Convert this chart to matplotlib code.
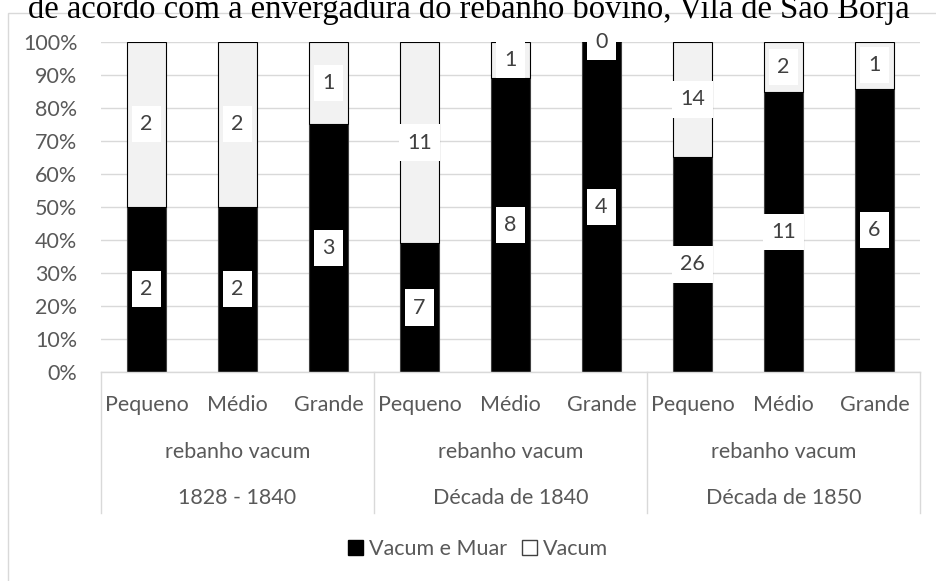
import matplotlib
matplotlib.use("Agg")
import matplotlib.pyplot as plt
import matplotlib.transforms as mtransforms
from matplotlib.patches import Patch, Rectangle
from matplotlib.lines import Line2D
import numpy as np

sizes = ["Pequeno", "Médio", "Grande"] * 3
group_label = "rebanho vacum"
periods = ["1828 - 1840", "Década de 1840", "Década de 1850"]
vacum_muar = [2, 2, 3, 7, 8, 4, 26, 11, 6]
vacum = [2, 2, 1, 11, 1, 0, 14, 2, 1]
series_names = ["Vacum e Muar", "Vacum"]
title = "de acordo com a envergadura do rebanho bovino, Vila de São Borja"

plt.rcParams['font.family'] = ['Lato', 'DejaVu Sans']
txt_color = '#595959'
grid_color = '#d9d9d9'
fs = 15.5

fig = plt.figure(figsize=(9.37, 5.81), dpi=100)
W, H = 937, 581
ax = fig.add_axes([101 / W, 1 - 371.7 / H, (920 - 101) / W, 330 / H])

vm = np.array(vacum_muar, dtype=float)
v = np.array(vacum, dtype=float)
tot = vm + v
p_vm = vm / tot * 100
p_v = v / tot * 100
x = np.arange(len(sizes))
bw = 0.42

ax.bar(x, p_vm, bw, color='black', edgecolor='#404040', linewidth=0.8, zorder=2)
ax.bar(x, p_v, bw, bottom=p_vm, color='#f2f2f2', edgecolor='black', linewidth=0.8, zorder=2)

bbox = dict(boxstyle='square,pad=0.38', facecolor='white', edgecolor='none')
for xi, a, b, pa, pb in zip(x, vm, v, p_vm, p_v):
    ax.text(xi, pa / 2, f"{int(a)}", ha='center', va='center', fontsize=fs,
            color='#404040', bbox=bbox, zorder=4)
    ax.text(xi, pa + pb / 2, f"{int(b)}", ha='center', va='center', fontsize=fs,
            color='#404040', bbox=bbox, zorder=4)

ax.set_xlim(-0.5, len(sizes) - 0.5)
ax.set_ylim(0, 100)
ax.set_yticks(np.arange(0, 101, 10))
ax.set_yticklabels([f"{t}%" for t in range(0, 101, 10)], fontsize=fs, color=txt_color)
ax.tick_params(axis='y', length=0, pad=17)
ax.set_xticks([])
for s in ['top', 'right', 'left']:
    ax.spines[s].set_visible(False)
ax.spines['bottom'].set_color(grid_color)
ax.spines['bottom'].set_linewidth(1)
ax.yaxis.grid(True, color=grid_color, linewidth=1, zorder=0)
ax.set_axisbelow(True)

trans = mtransforms.blended_transform_factory(ax.transData, ax.transAxes)
y_bot = -(513 - 371.7) / 330
for sep in [-0.5, 2.5, 5.5, 8.5]:
    ax.add_line(Line2D([sep, sep], [0, y_bot], transform=trans, color=grid_color,
                       linewidth=1, clip_on=False))
y1 = -(405 - 371.7) / 330
y2 = -(452 - 371.7) / 330
y3 = -(498 - 371.7) / 330
for xi, s in zip(x, sizes):
    ax.text(xi, y1, s, transform=trans, ha='center', va='center', fontsize=fs, color=txt_color)
for g, per in enumerate(periods):
    cx = g * 3 + 1
    ax.text(cx, y2, group_label, transform=trans, ha='center', va='center', fontsize=fs, color=txt_color)
    ax.text(cx, y3, per, transform=trans, ha='center', va='center', fontsize=fs, color=txt_color)

handles = [Patch(facecolor='black', edgecolor='black'),
           Patch(facecolor='white', edgecolor='#404040')]
fig.legend(handles, series_names, loc='center', bbox_to_anchor=(478 / W, 1 - 549 / H),
           ncol=2, frameon=False, fontsize=fs, handlelength=0.7, handleheight=0.7,
           handletextpad=0.25, columnspacing=0.7, labelcolor=txt_color)

# chart border
fig.add_artist(Rectangle((8 / W, -0.01), 1.0, 1 - 13 / H + 0.01, transform=fig.transFigure,
                         fill=False, edgecolor=grid_color, linewidth=1))

fig.text(0.5, 1 - 18 / H, title, ha='center', va='baseline', fontsize=23.5,
         family=['Liberation Serif', 'DejaVu Serif'], color='black')

fig.savefig("out.png", dpi=100, facecolor='white')
